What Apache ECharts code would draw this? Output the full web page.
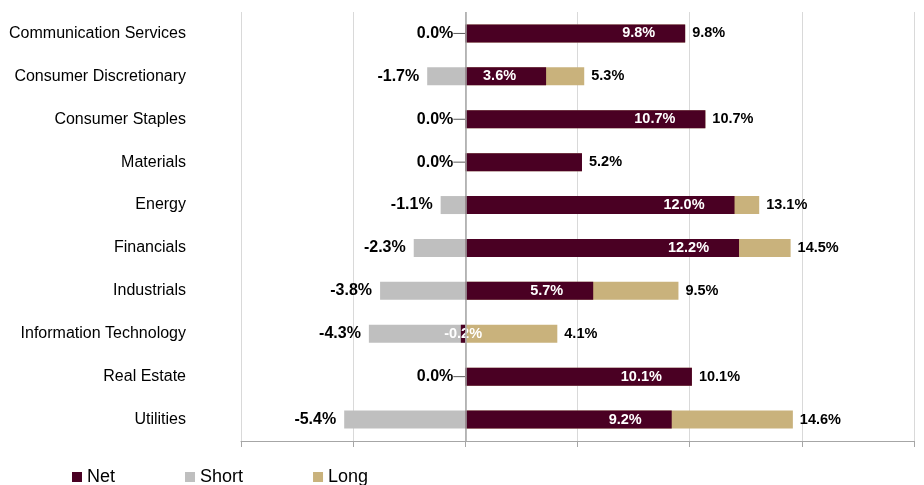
<!DOCTYPE html>
<html>
<head>
<meta charset="utf-8">
<script src="https://cdn.jsdelivr.net/npm/echarts@6/dist/echarts.min.js"></script>
<style>
  html, body { margin: 0; padding: 0; background: #fff; }
  #chart { width: 924px; height: 485px; }
</style>
</head>
<body>
<div id="chart"></div>
<script>
const categories = [
    'Communication Services', 'Consumer Discretionary', 'Consumer Staples', 'Materials',
    'Energy', 'Financials', 'Industrials', 'Information Technology', 'Real Estate', 'Utilities'
];
const netValues = [9.8, 3.6, 10.7, 5.2, 12.0, 12.2, 5.7, -0.2, 10.1, 9.2];
const shortValues = [0.0, -1.7, 0.0, 0.0, -1.1, -2.3, -3.8, -4.3, 0.0, -5.4];
const longValues = [9.8, 5.3, 10.7, 5.2, 13.1, 14.5, 9.5, 4.1, 10.1, 14.6];
const hiddenNetLabels = ['Materials'];

const FONT = 'Arial, "Liberation Sans", sans-serif';
const pct = (p) => Number(p.value).toFixed(1) + '%';

const chart = echarts.init(document.getElementById('chart'));

// net bars sit on top; negative net gets its label centred, some labels hidden
const netData = netValues.map((v, i) => {
    if (hiddenNetLabels.includes(categories[i])) return { value: v, label: { show: false } };
    if (v < 0) return { value: v, label: { position: 'inside' } };
    return v;
});

// zero-width short bars get a small leader line like the original
const shortData = shortValues.map((v) => v === 0
    ? { value: v, labelLine: { show: true } }
    : v);

const option = {
    animation: false,
    textStyle: { fontFamily: FONT },
    legend: {
        data: ['Net', 'Short', 'Long'],
        left: 72,
        top: 468,
        padding: 0,
        icon: 'rect',
        itemWidth: 10,
        itemHeight: 10,
        itemGap: 70,
        textStyle: { fontSize: 18, color: '#000', fontFamily: FONT }
    },
    grid: { left: 241, right: 10, top: 12, bottom: 44 },
    xAxis: {
        type: 'value',
        min: -10,
        max: 20,
        interval: 5,
        axisLabel: { show: false },
        axisLine: { show: true, lineStyle: { color: '#a6a6a6', width: 1 } },
        axisTick: { show: true, length: 6, lineStyle: { color: '#a6a6a6' } },
        splitLine: { show: true, lineStyle: { color: '#d9d9d9', width: 1 } }
    },
    yAxis: {
        type: 'category',
        data: categories,
        inverse: true,
        axisLine: { show: false, onZero: false },
        axisTick: { show: false },
        axisLabel: { color: '#000', fontSize: 16, margin: 55, fontFamily: FONT }
    },
    series: [
        {
            name: 'Long',
            type: 'bar',
            data: longValues,
            barWidth: 18,
            barGap: '-100%',
            itemStyle: { color: '#C9B27C' },
            label: {
                show: true,
                position: 'right',
                distance: 7,
                color: '#000',
                fontWeight: 'bold',
                fontSize: 14.5,
                fontFamily: FONT,
                formatter: pct
            },
            markLine: {
                silent: true,
                symbol: 'none',
                label: { show: false },
                lineStyle: { color: '#a6a6a6', type: 'solid', width: 1.5 },
                data: [{ xAxis: 0 }]
            }
        },
        {
            name: 'Short',
            type: 'bar',
            data: shortData,
            barWidth: 18,
            barGap: '-100%',
            itemStyle: { color: '#BFBFBF' },
            labelLine: { lineStyle: { color: '#595959', width: 1 } },
            labelLayout: (params) => shortValues[params.dataIndex] === 0 ? { dx: -4 } : {},
            label: {
                show: true,
                position: 'left',
                distance: 8,
                color: '#000',
                fontWeight: 'bold',
                fontSize: 16,
                fontFamily: FONT,
                formatter: pct
            }
        },
        {
            name: 'Net',
            type: 'bar',
            data: netData,
            barWidth: 18,
            barGap: '-100%',
            z: 3,
            itemStyle: { color: '#4A0023' },
            label: {
                show: true,
                position: 'insideRight',
                distance: 30,
                color: '#fff',
                fontWeight: 'bold',
                fontSize: 14.5,
                fontFamily: FONT,
                formatter: pct
            }
        }
    ]
};

chart.setOption(option);
</script>
</body>
</html>
